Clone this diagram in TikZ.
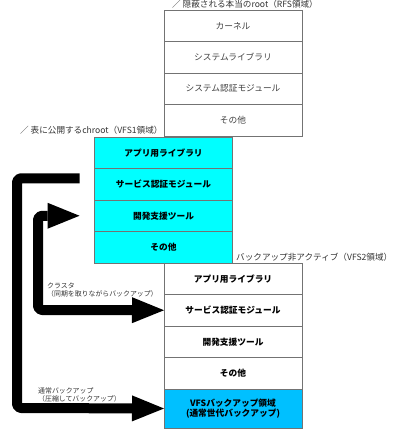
\documentclass[tikz,border=0pt]{standalone}
\usepackage{fontspec}
\newfontfamily\jp{Noto Sans CJK JP}
\usetikzlibrary{positioning,arrows.meta}
\definecolor{vfscyan}{RGB}{0,255,255}
\definecolor{bakblue}{RGB}{0,192,255}

\begin{document}
\begin{tikzpicture}[x=1pt,y=-1pt,
  row/.style={draw=gray!90!black,minimum width=138pt,minimum height=31.5pt,inner sep=0pt,outer sep=0pt,font=\jp\fontsize{8.7}{10}\selectfont},
  rowb/.style={row,font=\jp\bfseries\fontsize{8.7}{10}\selectfont},
  lbl/.style={anchor=west,inner sep=0pt,font=\jp\fontsize{8.6}{9}\selectfont,text=black!80},
  small/.style={anchor=west,inner sep=0pt,align=left,font=\jp\fontsize{6.9}{7.3}\selectfont,text=black!80},
  fatline/.style={line width=10pt,rounded corners=4pt,line join=round},
  fattip/.tip={Triangle[length=32pt,width=26pt,line width=0pt]}]
\useasboundingbox (0,0) rectangle (400,433);
% RFS
\node[row,anchor=north] (rfs1) at (233,10) {\color{black!75}カーネル};
\node[row,below=0pt of rfs1] (rfs2) {\color{black!75}システムライブラリ};
\node[row,below=0pt of rfs2] (rfs3) {\color{black!75}システム認証モジュール};
\node[row,below=0pt of rfs3] (rfs4) {\color{black!75}その他};
\node[lbl] (lblrfs) at (172,4) {／ 隠蔽される本当のroot（RFS領域）};
% VFS1
\node[rowb,fill=vfscyan,anchor=north] (vfsa1) at (163.5,137) {アプリ用ライブラリ};
\node[rowb,fill=vfscyan,below=0pt of vfsa1] (vfsa2) {サービス認証モジュール};
\node[rowb,fill=vfscyan,below=0pt of vfsa2] (vfsa3) {開発支援ツール};
\node[rowb,fill=vfscyan,below=0pt of vfsa3] (vfsa4) {その他};
\node[lbl] (lblvfsa) at (20,130) {／ 表に公開するchroot（VFS1領域）};
% VFS2
\node[rowb,anchor=north] (vfsb1) at (233,263) {アプリ用ライブラリ};
\node[rowb,below=0pt of vfsb1] (vfsb2) {サービス認証モジュール};
\node[rowb,below=0pt of vfsb2] (vfsb3) {開発支援ツール};
\node[rowb,below=0pt of vfsb3] (vfsb4) {その他};
\node[rowb,fill=bakblue,minimum height=39pt,align=center,below=0pt of vfsb4,font=\jp\bfseries\fontsize{8.7}{9.5}\selectfont] (vfsb5) {VFSバックアップ領域\\(通常世代バックアップ)};
\node[lbl] (lblvfsb) at (236,257) {バックアップ非アクティブ（VFS2領域）};
% backup arrows
\draw[fatline,-fattip] ([shift={(-15pt,6pt)}]vfsa2.west) -| (17,408) -- (vfsb5.west);
\draw[fatline,fattip-fattip] ([xshift=-15pt]vfsa3.west) -| (38,310) -- (vfsb2.west);
\node[small] (lblclu) at (47,290) {クラスタ\\（同期を取りながらバックアップ）};
\node[small] (lblnorm) at (38,395) {通常バックアップ\\（圧縮してバックアップ）};
\end{tikzpicture}
\end{document}
